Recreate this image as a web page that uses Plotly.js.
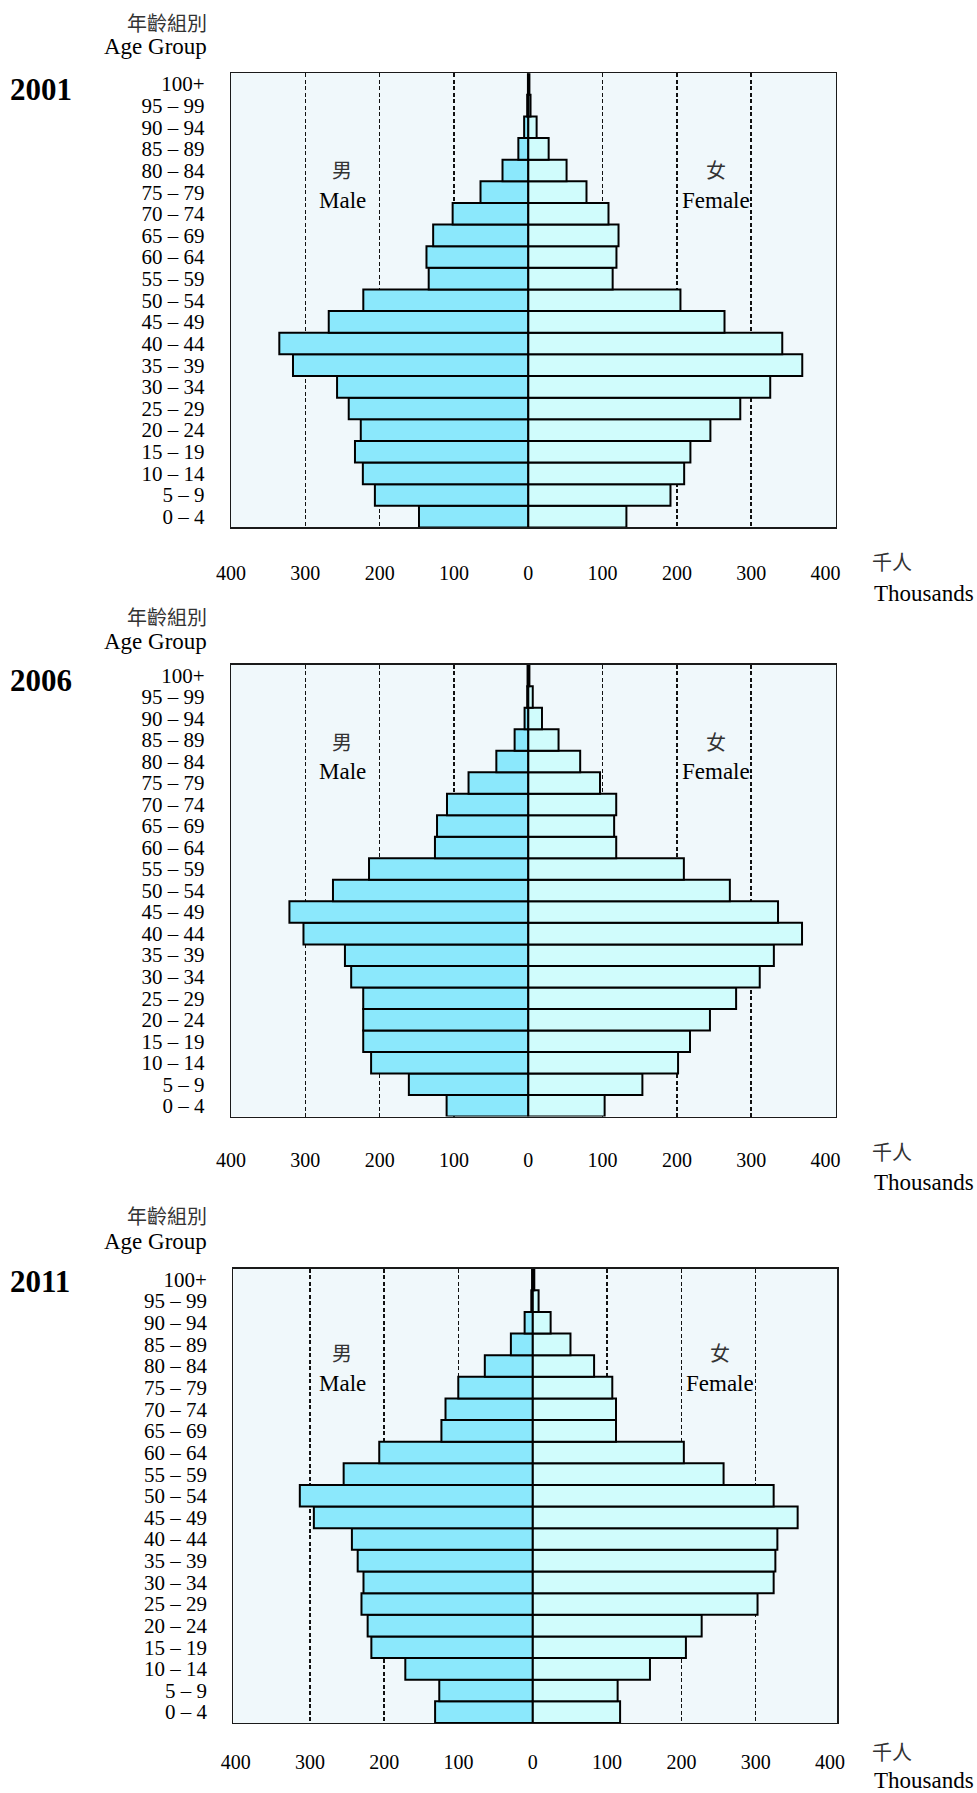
<!DOCTYPE html>
<html>
<head>
<meta charset="utf-8">
<script src="https://cdn.plot.ly/plotly-3.0.1.min.js"></script>
<style>
  html, body { margin: 0; padding: 0; background: #ffffff; }
  #chart { width: 977px; height: 1793px; }
</style>
</head>
<body>
<div id="chart"></div>
<script>
// ---------------- DATA ----------------
// Age groups, listed from the youngest (bottom) to the oldest (top)
const ageGroups = ['0 – 4','5 – 9','10 – 14','15 – 19','20 – 24','25 – 29','30 – 34','35 – 39',
  '40 – 44','45 – 49','50 – 54','55 – 59','60 – 64','65 – 69','70 – 74','75 – 79',
  '80 – 84','85 – 89','90 – 94','95 – 99','100+'];

const years = ['2001', '2006', '2011'];

// Population in thousands, same order as ageGroups (0–4 first)
const male2001   = [147.1, 206.4, 222.6, 233.2, 225.4, 241.6, 257.3, 316.6, 335.0, 268.5, 222.0, 134.0, 137.0, 128.0, 101.8, 64.3, 34.7, 13.4, 5.6, 1.5, 0.5];
const female2001 = [132.0, 191.3, 209.7, 218.1, 245.0, 285.2, 325.5, 368.6, 341.7, 264.0, 204.7, 113.5, 118.6, 121.4, 107.9, 78.3, 51.5, 27.4, 11.2, 3.0, 1.5];

const male2006   = [109.9, 160.7, 211.5, 222.1, 222.1, 222.1, 238.3, 246.7, 302.5, 321.4, 262.8, 214.3, 125.6, 122.8, 109.4, 80.4, 43.0, 18.4, 5.0, 1.5, 1.0];
const female2006 = [102.7, 153.5, 201.5, 217.6, 244.4, 279.6, 311.4, 330.4, 368.3, 336.0, 271.2, 209.3, 118.3, 115.5, 118.3, 96.5, 69.8, 40.7, 18.4, 6.0, 1.5];

const male2011   = [131.5, 125.9, 171.6, 217.3, 222.3, 230.6, 227.9, 235.7, 243.5, 294.7, 313.6, 254.6, 206.7, 123.0, 117.5, 100.3, 64.6, 29.5, 11.0, 2.0, 1.0];
const female2011 = [117.5, 114.2, 157.7, 206.1, 227.3, 302.5, 324.2, 326.5, 329.2, 356.5, 324.2, 256.8, 203.3, 112.0, 112.0, 107.0, 82.5, 50.7, 24.0, 7.8, 2.0];

const xTickVals  = [-400, -300, -200, -100, 0, 100, 200, 300, 400];
const xTickText  = ['400', '300', '200', '100', '0', '100', '200', '300', '400'];
const gridVals   = [-300, -200, -100, 100, 200, 300];

const textAgeCN = '年齡組別';
const textAgeEN = 'Age Group';
const textMaleCN = '男';
const textMaleEN = 'Male';
const textFemaleCN = '女';
const textFemaleEN = 'Female';
const textUnitCN = '千人';
const textUnitEN = 'Thousands';

// ---------------- LAYOUT HELPERS ----------------
const W = 977, H = 1793;
const px = x => x / W;
const py = y => 1 - y / H;

const FONT = 'Liberation Serif, Noto Sans CJK TC, serif';
const CJK  = 'Noto Sans CJK TC, Noto Sans CJK SC, sans-serif';
const MALE_COLOR = '#8be8fc';
const FEMALE_COLOR = '#d0fcfc';
const BG_COLOR = '#f0f8fb';

const panels = [
  { male: male2001, female: female2001, year: years[0],
    xr: [-400, 414], xd: [231, 836], yd: [73.2, 527.4], xstand: 27,
    cnY: 22, enY: 47, yearY: 89, sexCnY: 169, sexEnY: 200, femX: 716, unitCnY: 562, unitEnY: 593 },
  { male: male2006, female: female2006, year: years[1],
    xr: [-400, 414], xd: [231, 836], yd: [664.7, 1116.5], xstand: 25,
    cnY: 616, enY: 642, yearY: 680, sexCnY: 741, sexEnY: 772, femX: 716, unitCnY: 1151, unitEnY: 1182 },
  { male: male2011, female: female2011, year: years[2],
    xr: [-403, 410], xd: [233.4, 837.4], yd: [1268.7, 1722.9], xstand: 21,
    cnY: 1215, enY: 1241, yearY: 1281, sexCnY: 1352, sexEnY: 1383, femX: 720, unitCnY: 1751.5, unitEnY: 1780 }
];

const traces = [];
const layout = {
  width: W, height: H,
  margin: { l: 0, r: 0, t: 0, b: 0, pad: 0 },
  paper_bgcolor: '#ffffff',
  plot_bgcolor: BG_COLOR,
  showlegend: false,
  barmode: 'relative',
  bargap: 0,
  font: { family: FONT, color: '#000000', size: 20 },
  annotations: []
};

panels.forEach((p, i) => {
  const sfx = i === 0 ? '' : String(i + 1);
  const xa = 'x' + sfx, ya = 'y' + sfx;

  traces.push({
    type: 'bar', orientation: 'h',
    y: ageGroups, x: p.male.map(v => -v),
    xaxis: xa, yaxis: ya,
    marker: { color: MALE_COLOR, line: { color: '#000000', width: 2 } },
    hoverinfo: 'skip'
  });
  traces.push({
    type: 'bar', orientation: 'h',
    y: ageGroups, x: p.female,
    xaxis: xa, yaxis: ya,
    marker: { color: FEMALE_COLOR, line: { color: '#000000', width: 2 } },
    hoverinfo: 'skip'
  });

  layout['xaxis' + sfx] = {
    domain: [px(p.xd[0]), px(p.xd[1])],
    anchor: ya,
    range: p.xr,
    tickmode: 'array', tickvals: xTickVals, ticktext: xTickText,
    tickfont: { family: FONT, size: 20, color: '#000' },
    ticks: '', ticklabelstandoff: p.xstand,
    showgrid: false, zeroline: false,
    minor: { tickmode: 'array', tickvals: gridVals, showgrid: true, gridcolor: '#111111',
             gridwidth: 1.6, griddash: '4px,2.5px', ticks: '' },
    showline: true, mirror: true, linecolor: '#1a1a1a', linewidth: 1.3,
    fixedrange: true
  };
  layout['yaxis' + sfx] = {
    domain: [py(p.yd[1]), py(p.yd[0])],
    anchor: xa,
    type: 'category',
    categoryorder: 'array', categoryarray: ageGroups,
    range: [-0.5, ageGroups.length - 0.5],
    tickmode: 'array', tickvals: ageGroups, ticktext: ageGroups,
    tickfont: { family: FONT, size: 21, color: '#000' },
    ticks: '', ticklabelstandoff: 21,
    showgrid: false, zeroline: false,
    showline: true, mirror: true, linecolor: '#1a1a1a', linewidth: 1.3,
    fixedrange: true
  };

  const ann = (text, x, y, xanchor, font) => layout.annotations.push({
    text, x: px(x), y: py(y), xref: 'paper', yref: 'paper',
    xanchor, yanchor: 'middle', showarrow: false, font
  });

  ann(textAgeCN, 209, p.cnY, 'right', { family: CJK, size: 20, color: '#333' });
  ann(textAgeEN, 209, p.enY, 'right', { family: FONT, size: 23, color: '#000' });
  ann(p.year, 8, p.yearY, 'left', { family: FONT, size: 31, color: '#000', weight: 'bold' });
  ann(textMaleCN, 342, p.sexCnY, 'center', { family: CJK, size: 20, color: '#333' });
  ann(textMaleEN, 342, p.sexEnY, 'center', { family: FONT, size: 23, color: '#000' });
  ann(textFemaleCN, p.femX, p.sexCnY, 'center', { family: CJK, size: 20, color: '#333' });
  ann(textFemaleEN, p.femX, p.sexEnY, 'center', { family: FONT, size: 23, color: '#000' });
  ann(textUnitCN, 870, p.unitCnY, 'left', { family: CJK, size: 20, color: '#333' });
  ann(textUnitEN, 872, p.unitEnY, 'left', { family: FONT, size: 23, color: '#000' });
});

Plotly.newPlot('chart', traces, layout, { staticPlot: true, displayModeBar: false });
</script>
</body>
</html>
